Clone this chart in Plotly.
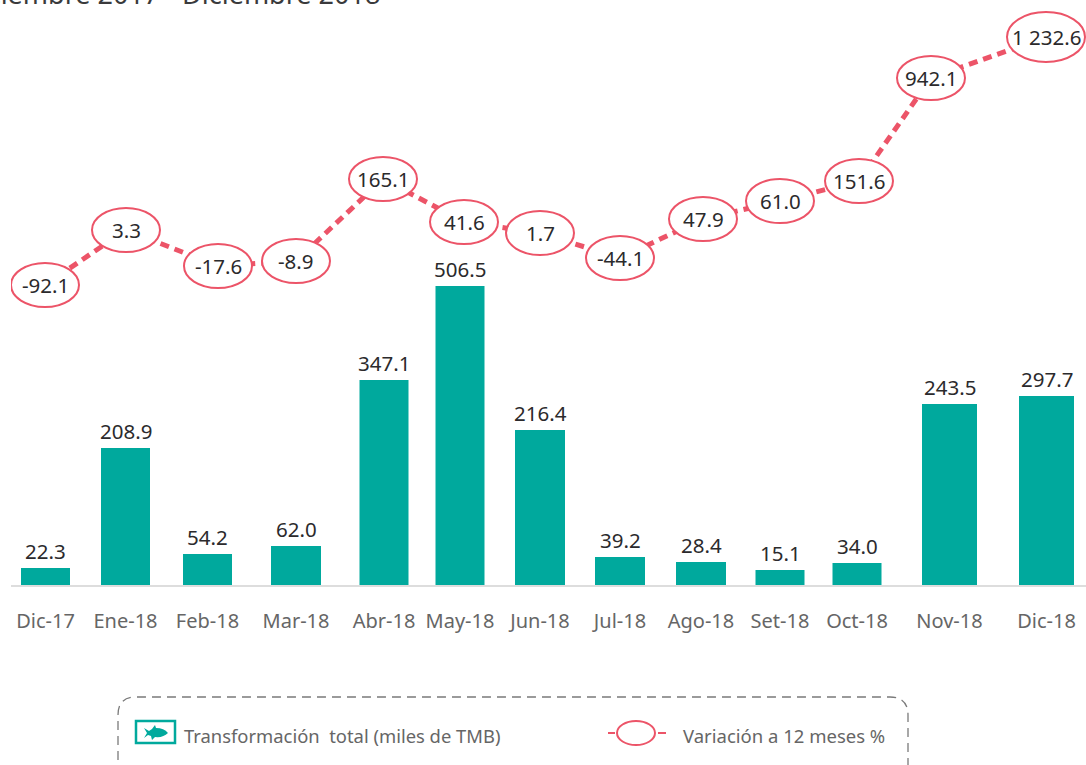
import plotly.graph_objects as go

W, H = 1086, 765
BASE = 586  # baseline row of the bars

categories = ["Dic-17", "Ene-18", "Feb-18", "Mar-18", "Abr-18", "May-18", "Jun-18",
              "Jul-18", "Ago-18", "Set-18", "Oct-18", "Nov-18", "Dic-18"]
# uneven category centres, as drawn in the source
x_positions = [45.5, 125.5, 207.5, 296, 384, 460, 540, 620, 701, 780, 857, 949.5, 1046.5]
bar_widths = [49, 49, 49, 50, 49, 49, 50, 50, 50, 49, 49, 55, 55]

bar_labels = ["22.3", "208.9", "54.2", "62.0", "347.1", "506.5", "216.4",
              "39.2", "28.4", "15.1", "34.0", "243.5", "297.7"]
# drawn bar lengths (the source bars are not strictly to scale)
bar_heights = [18, 138, 32, 40, 206, 300, 156, 29, 24, 16, 23, 182, 190]

line_x = [45, 126, 218, 296, 383, 464, 540, 620, 703, 780, 859, 931, 1046]
line_labels = ["-92.1", "3.3", "-17.6", "-8.9", "165.1", "41.6", "1.7",
               "-44.1", "47.9", "61.0", "151.6", "942.1", "1 232.6"]
# drawn heights of the line points above the baseline
line_heights = [301, 356, 320, 325, 407, 364, 353, 328, 367, 385, 405, 508, 549]
ellipse_rx = [34, 34, 34, 34, 34, 34, 34, 34, 34, 34, 34, 34, 39]
ellipse_ry = [22, 22, 22, 22, 22, 22, 22, 22, 22, 22, 22, 22, 25]

TEAL = "#00A99D"
RED = "#EC5468"
DARK = "#2B2A2C"
GREY = "#666666"
FONT = "Noto Sans"


def px(x):
    return x / W


def py(y):
    return 1 - y / H


fig = go.Figure()
fig.add_bar(x=x_positions, y=bar_heights, width=bar_widths,
            marker=dict(color=TEAL, line_width=0), hoverinfo="skip")
fig.add_scatter(x=line_x, y=line_heights, mode="lines",
                line=dict(color=RED, width=5, dash="9px,6px"), hoverinfo="skip")

shapes = []
annotations = []
for x, h, t, rx, ry in zip(line_x, line_heights, line_labels, ellipse_rx, ellipse_ry):
    shapes.append(dict(type="circle", xref="x", yref="y", x0=x - rx, x1=x + rx,
                       y0=h - ry, y1=h + ry, fillcolor="white",
                       line=dict(color=RED, width=2), layer="above"))
    annotations.append(dict(x=x, y=h, xref="x", yref="y", text=t, showarrow=False,
                            font=dict(family=FONT, size=20.5, color=DARK)))
for x, h, t in zip(x_positions, bar_heights, bar_labels):
    annotations.append(dict(x=x, y=h, xref="x", yref="y", text=t, showarrow=False,
                            yanchor="bottom", yshift=1,
                            font=dict(family=FONT, size=20.5, color=DARK)))

# clipped heading at the very top of the frame
annotations.append(dict(x=px(382), y=py(5), xref="paper", yref="paper",
                        text="Diciembre 2017 - Diciembre 2018", showarrow=False,
                        xanchor="right", yanchor="bottom", yshift=-9,
                        font=dict(family=FONT, size=27, color="#3A3A3C")))

# legend box (dashed, rounded, running off the bottom of the frame)
box = (f"M {px(118)} {py(775)} L {px(118)} {py(715)} "
       f"Q {px(118)} {py(697)} {px(136)} {py(697)} L {px(890)} {py(697)} "
       f"Q {px(908)} {py(697)} {px(908)} {py(715)} L {px(908)} {py(775)}")
shapes.append(dict(type="path", xref="paper", yref="paper", path=box, layer="above",
                   line=dict(color="#7A7A7A", width=1.3, dash="9px,6px")))
# legend icon
shapes.append(dict(type="rect", xref="paper", yref="paper", x0=px(136), x1=px(175),
                   y0=py(743), y1=py(721), layer="above", fillcolor="white",
                   line=dict(color=TEAL, width=2.5)))
fish = (f"M {px(144)} {py(728)} L {px(149)} {py(731)} L {px(152)} {py(729)} L {px(155)} {py(725)} "
        f"L {px(156)} {py(728)} Q {px(164)} {py(728)} {px(168)} {py(733)} "
        f"Q {px(163)} {py(738)} {px(155)} {py(737)} L {px(152)} {py(740)} L {px(151)} {py(736)} "
        f"L {px(148)} {py(735)} L {px(144)} {py(738)} L {px(147)} {py(733)} Z")
shapes.append(dict(type="path", xref="paper", yref="paper", path=fish, fillcolor=TEAL,
                   line_width=0, layer="above"))
# legend line sample
shapes.append(dict(type="line", xref="paper", yref="paper", x0=px(608), x1=px(615), y0=py(733),
                   y1=py(733), line=dict(color=RED, width=2), layer="above"))
shapes.append(dict(type="line", xref="paper", yref="paper", x0=px(658), x1=px(666), y0=py(733),
                   y1=py(733), line=dict(color=RED, width=2), layer="above"))
shapes.append(dict(type="circle", xref="paper", yref="paper", x0=px(617), x1=px(655), y0=py(745),
                   y1=py(721), fillcolor="white", line=dict(color=RED, width=2), layer="above"))
annotations.append(dict(x=px(182), y=py(735), xref="paper", yref="paper", xanchor="left",
                        yanchor="middle", text="Transformación  total (miles de TMB)",
                        showarrow=False, font=dict(family=FONT, size=18.4, color=GREY)))
annotations.append(dict(x=px(681), y=py(735), xref="paper", yref="paper", xanchor="left",
                        yanchor="middle", text="Variación a 12 meses %",
                        showarrow=False, font=dict(family=FONT, size=18.5, color=GREY)))

fig.update_layout(
    width=W, height=H, margin=dict(l=0, r=0, t=0, b=0),
    paper_bgcolor="white", plot_bgcolor="white", showlegend=False,
    shapes=shapes, annotations=annotations,
    xaxis=dict(range=[11, W], domain=[px(11), 1], anchor="free", position=py(BASE),
               tickmode="array", tickvals=x_positions, ticktext=categories,
               showgrid=False, zeroline=False, showline=True, linecolor="#DDDDDD", linewidth=1.5,
               ticks="outside", ticklen=17, tickcolor="rgba(0,0,0,0)",
               tickfont=dict(family=FONT, size=20, color=GREY)),
    yaxis=dict(range=[BASE - H, BASE], domain=[0, 1], visible=False),
)

fig.write_html("out.html", config={"displayModeBar": False},
               post_script="document.body.style.margin='0';")
